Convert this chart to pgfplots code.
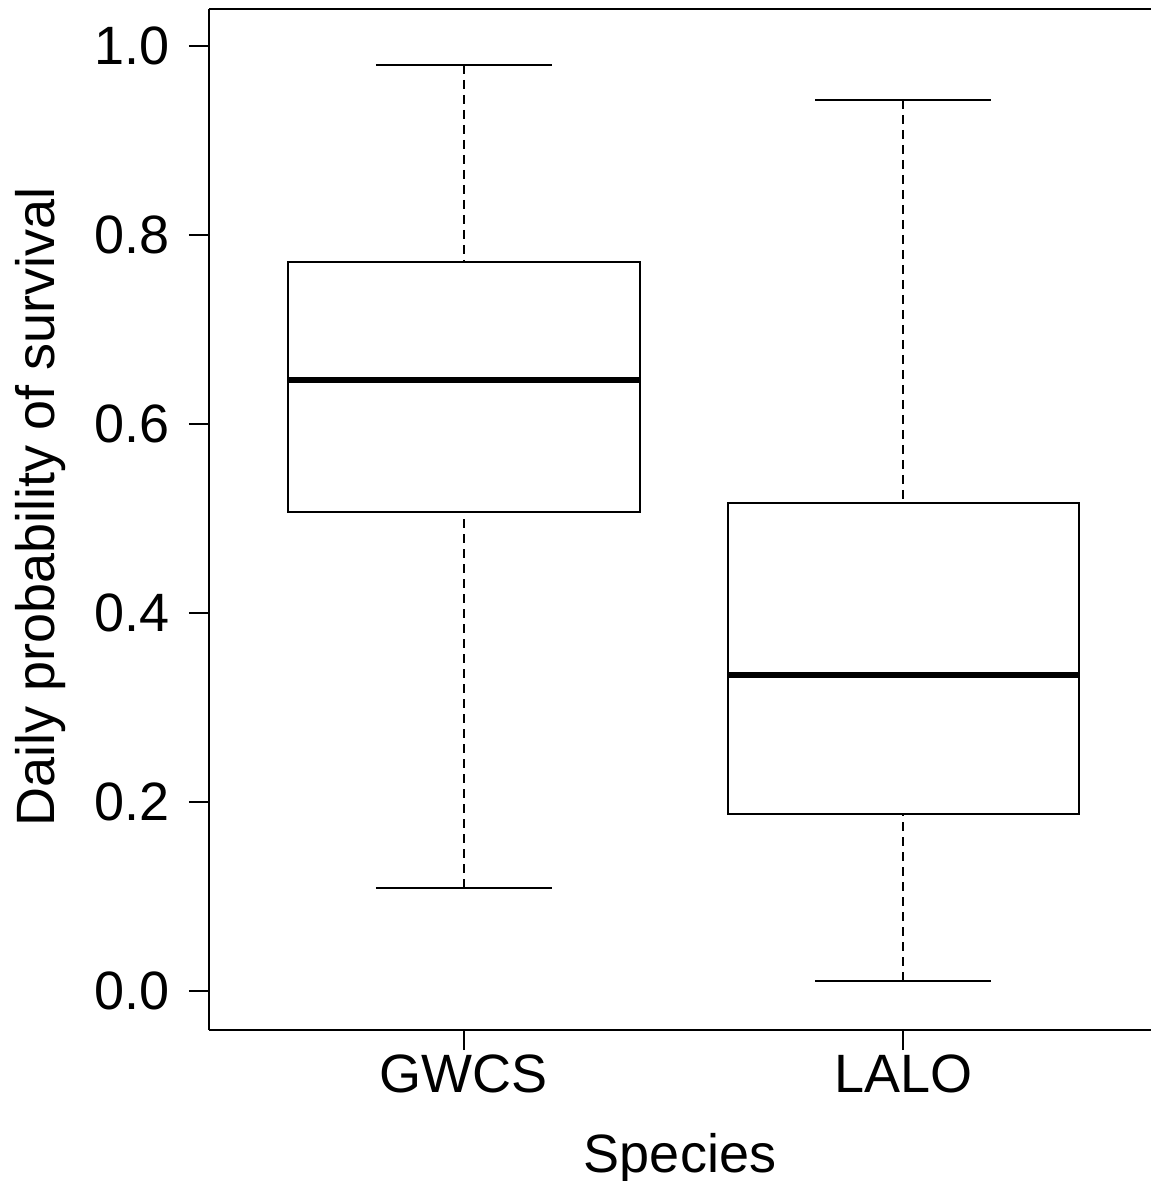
\documentclass[border=0pt]{standalone}
\usepackage{pgfplots}
\pgfplotsset{compat=1.18}
\usepgfplotslibrary{statistics}
\usepackage{fontspec}
\setmainfont{Liberation Sans}
\newcommand{\lblfont}{\fontsize{27}{32}\selectfont}
\pgfplotsset{
  /pgfplots/boxplot/draw/whisker/.code 2 args={
    \draw[black, line width=1pt, dash pattern=on 4.5pt off 3pt] (boxplot cs:#2) -- (boxplot cs:#1);
    \draw[black, line width=1pt] (boxplot whisker cs:#2,0) -- (boxplot whisker cs:#2,1);
  },
}
\begin{document}
\begin{tikzpicture}
\begin{axis}[
  scale only axis,
  width=471pt, height=510.5pt,
  xmin=0.42, xmax=2.5636,
  ymin=-0.04127, ymax=1.0392,
  axis x line*=box, axis y line*=left,
  axis line style={black, line width=1pt},
  xtick pos=left, ytick pos=left,
  tick align=outside,
  major tick length=10pt,
  every tick/.style={black, line width=1pt},
  xtick={1,2}, xticklabels={GWCS,LALO},
  ytick={0,0.2,0.4,0.6,0.8,1.0},
  yticklabel style={xshift=-6pt, /pgf/number format/.cd, fixed, fixed zerofill, precision=1, assume math mode=true},
  xticklabel style={yshift=1pt},
  ticklabel style={font=\lblfont},
  xlabel={Species}, ylabel={Daily probability of survival},
  label style={font=\lblfont},
  xlabel style={at={(rel axis cs:0.5,0)}, anchor=base, yshift=-71pt},
  ylabel style={at={([xshift=-77pt]rel axis cs:0,0.512)}, anchor=base},
  boxplot/draw direction=y,
  boxplot/box extend=0.8,
  boxplot/whisker extend=0.4,
  boxplot/every box/.style={black, line width=1pt, fill=white},
  boxplot/every median/.style={black, line width=3pt},
]
\coordinate (O) at (rel axis cs:0,0);
\addplot+[black, mark=none, boxplot prepared={draw position=1,
  lower whisker=0.109, lower quartile=0.507, median=0.647,
  upper quartile=0.771, upper whisker=0.980}] coordinates {};
\addplot+[black, mark=none, boxplot prepared={draw position=2,
  lower whisker=0.0106, lower quartile=0.187, median=0.334,
  upper quartile=0.516, upper whisker=0.943}] coordinates {};
\end{axis}
\pgfresetboundingbox
\path ([shift={(-104.5pt,-75.5pt)}]O) rectangle ++(575.5pt,590.5pt);
\end{tikzpicture}
\end{document}
